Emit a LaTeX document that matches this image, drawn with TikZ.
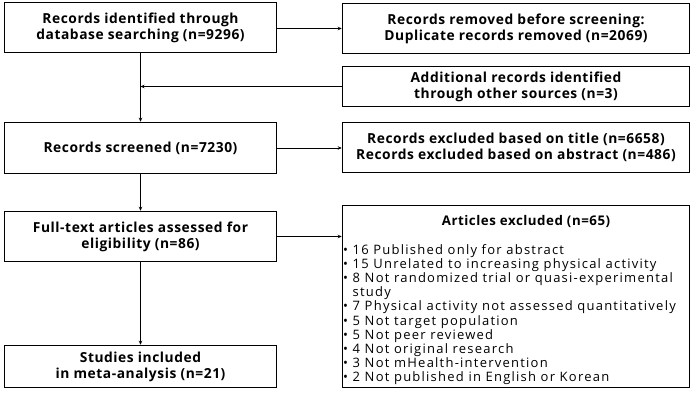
\documentclass[tikz,border=0pt]{standalone}
\usepackage{fontspec}
\setmainfont{Open Sans}
\newfontfamily\bfwide[LetterSpace=4]{Open Sans Bold}
\newfontfamily\rgwide[LetterSpace=9.5]{Open Sans}
\usetikzlibrary{arrows.meta}
\begin{document}
\begin{tikzpicture}[x=1pt,y=-1pt,
  box/.style={draw, line width=1.5pt, inner sep=0pt, align=center, font=\bfwide\fontsize{13.8}{16}\selectfont},
  lbox/.style={box, minimum width=272pt},
  rbox/.style={box, minimum width=347pt},
  conn/.style={line width=0.9pt, -{Stealth[length=4pt,width=3.5pt]}}]
\useasboundingbox (0,0) rectangle (696,403);
\node[lbox, minimum height=50pt] (b1) at (140.5,27.5) {Records identified through\\database searching (n=9296)};
\node[lbox, minimum height=51pt] (b2) at (140.5,148) {Records screened (n=7230)};
\node[lbox, minimum height=50pt] (b3) at (140.5,236.5) {Full-text articles assessed for\\eligibility (n=86)};
\node[lbox, minimum height=42pt] (b4) at (140.5,366.5) {Studies included\\in meta-analysis (n=21)};
\node[rbox, minimum height=50pt] (r1) at (516,28.5) {Records removed before screening:\\Duplicate records removed (n=2069)};
\node[rbox, minimum height=40pt] (r2) at (516,86.5) {Additional records identified\\through other sources (n=3)};
\node[rbox, minimum height=50pt] (r3) at (516,147.5) {Records excluded based on title (n=6658)\\Records excluded based on abstract (n=486)};
\node[rbox, minimum height=182pt] (r4) at (516,296.5) {};
\node[font=\bfwide\fontsize{13.3}{16}\selectfont] (h4) at (526,222) {Articles excluded (n=65)};
\node[anchor=north west, inner sep=0pt, align=left, font=\rgwide\fontsize{13}{14.2}\selectfont] (l4) at (343,244)
{\textbullet\ 16 Published only for abstract\\
\textbullet\ 15 Unrelated to increasing physical activity\\
\textbullet\ 8 Not randomized trial or quasi-experimental\\
\phantom{\textbullet\ }study\\
\textbullet\ 7 Physical activity not assessed quantitatively\\
\textbullet\ 5 Not target population\\
\textbullet\ 5 Not peer reviewed\\
\textbullet\ 4 Not original research\\
\textbullet\ 3 Not mHealth-intervention\\
\textbullet\ 2 Not published in English or Korean};
\coordinate (m) at (b1.south |- r2.west);
\draw[conn] (b1) -- (b2);
\draw[conn] (r2.west) -- (m);
\draw[conn] (b1.east |- r1.west) -- (r1.west);
\draw[conn] (b2.east) -- (b2.east -| r3.west);
\draw[conn] (b2) -- (b3);
\draw[conn] (b3) -- (b4);
\draw[conn] (b3.east) -- (b3.east -| r4.west);
\end{tikzpicture}
\end{document}
